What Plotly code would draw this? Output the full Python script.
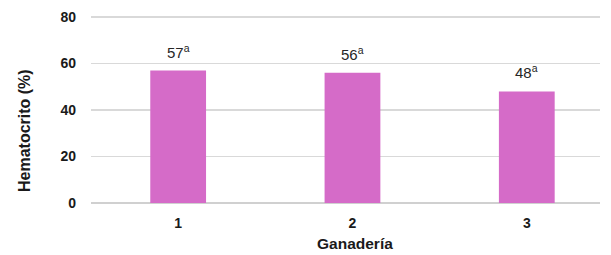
import plotly.graph_objects as go

categories = [1, 2, 3]
tick_labels = ["1", "2", "3"]
values = [57, 56, 48]
letters = ["a", "a", "a"]

FONT = "Liberation Sans, Arial, sans-serif"

fig = go.Figure()
fig.add_trace(go.Bar(
    x=categories, y=values, width=0.32,
    marker=dict(color="#D56BC8", line=dict(width=0)),
    hoverinfo="skip",
))

for c, v, l in zip(categories, values, letters):
    fig.add_annotation(
        x=c, y=v, text=f"{v}<sup>{l}</sup>", showarrow=False,
        yanchor="bottom", yshift=8,
        font=dict(family=FONT, size=15, color="#262626"),
    )

# axis titles (placed as in the reference)
fig.add_annotation(
    xref="paper", yref="paper", x=-0.1316, y=0.385, xanchor="center", yanchor="middle",
    text="<b>Hematocrito (%)</b>", textangle=-90, showarrow=False,
    font=dict(family=FONT, size=16, color="#1a1a1a"),
)
fig.add_annotation(
    xref="paper", yref="paper", x=0.518, y=-0.215, xanchor="center", yanchor="middle",
    text="<b>Ganadería</b>", showarrow=False,
    font=dict(family=FONT, size=15.5, color="#1a1a1a"),
)

fig.update_layout(
    width=611, height=255,
    margin=dict(l=91, r=11, t=16, b=52),
    plot_bgcolor="white", paper_bgcolor="white",
    showlegend=False,
    font=dict(family=FONT, color="#262626"),
    xaxis=dict(
        range=[0.5, 3.42], tickvals=categories, ticktext=tick_labels,
        showgrid=False, zeroline=False, showline=False, ticks="",
        automargin=False, ticklabelstandoff=10,
        tickfont=dict(size=14, color="#1a1a1a", family=FONT, weight="bold"),
    ),
    yaxis=dict(
        range=[0, 80.45], tickvals=[0, 20, 40, 60, 80],
        showgrid=True, gridcolor="#d9d9d9", gridwidth=1.3,
        zeroline=True, zerolinecolor="#d0d0d0", zerolinewidth=1.5,
        showline=False, ticks="", ticklabelstandoff=14, automargin=False,
        tickfont=dict(size=14, color="#1a1a1a", family=FONT, weight="bold"),
    ),
)

fig.write_html(
    "out.html",
    config={"displayModeBar": False, "staticPlot": True},
    post_script="document.body.style.margin='0';document.body.style.overflow='hidden';",
)
